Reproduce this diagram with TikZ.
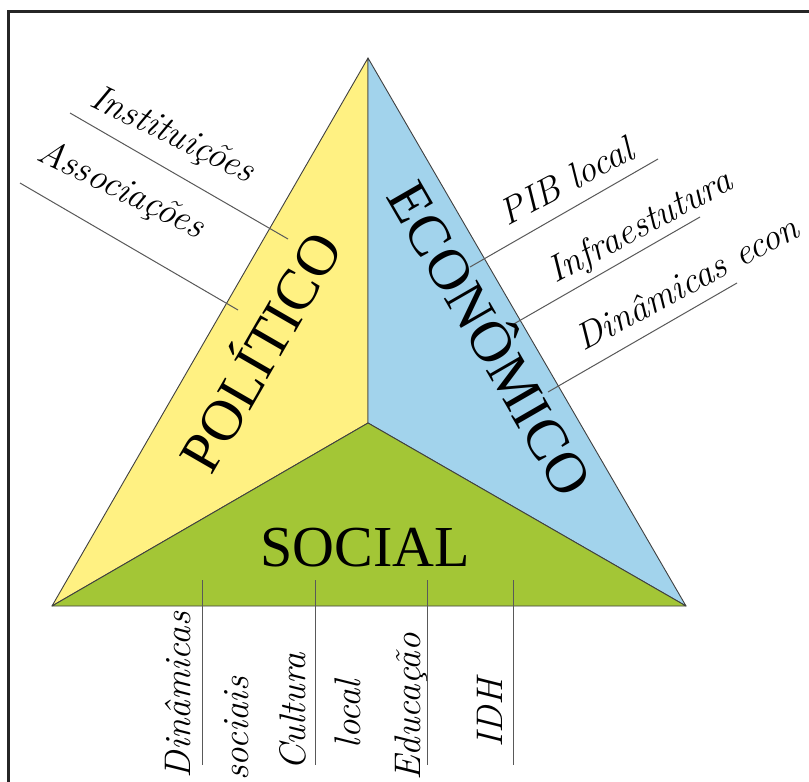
\documentclass[tikz,border=0pt]{standalone}
\usepackage{fontspec}
\newfontfamily\bigserif{Liberation Serif}
\definecolor{polyellow}{HTML}{FFF182}
\definecolor{ecoblue}{HTML}{A2D3EC}
\definecolor{socgreen}{HTML}{A3C636}
\begin{document}
\begin{tikzpicture}[x=1pt,y=-1pt,
  frameline/.style={line width=3.5pt, draw=black!85},
  face/.style={draw=black!75, line width=0.9pt, line join=round},
  leader/.style={draw=black!65, line width=1pt},
  hand/.style={font=\fontsize{37}{40}\selectfont\itshape, inner sep=0pt, anchor=base},
  big/.style={font=\bigserif\fontsize{58}{60}\selectfont, inner sep=0pt, anchor=base}]
\useasboundingbox (0,0) rectangle (809,782);
\clip (0,0) rectangle (809,782);
\fill[white] (0,0) rectangle (809,782);
% frame
\draw[frameline] (8.5,800) -- (8.5,11.5) -- (830,11.5);
% triangle
\coordinate (A) at (368,58);
\coordinate (L) at (52,606);
\coordinate (R) at (686,606);
\coordinate (C) at (368,423);
\filldraw[face, fill=polyellow] (A) -- (C) -- (L) -- cycle;
\filldraw[face, fill=ecoblue] (A) -- (R) -- (C) -- cycle;
\filldraw[face, fill=socgreen] (L) -- (C) -- (R) -- cycle;
% leader coordinates
\coordinate (i1) at (70,113);  \coordinate (i2) at (288,239);
\coordinate (a1) at (20,183);  \coordinate (a2) at (238,310);
\coordinate (p1) at (470,267); \coordinate (p2) at (658,159);
\coordinate (f1) at (512,325); \coordinate (f2) at (700,217);
\coordinate (d1) at (548,392); \coordinate (d2) at (737,283);
\coordinate (b1t) at (202,580); \coordinate (b1b) at (202,765);
\coordinate (b2t) at (315,580); \coordinate (b2b) at (315,765);
\coordinate (b3t) at (427,580); \coordinate (b3b) at (427,765);
\coordinate (b4t) at (513,580); \coordinate (b4b) at (513,765);
\draw[leader] (i1) -- (i2);
\draw[leader] (a1) -- (a2);
\draw[leader] (p1) -- (p2);
\draw[leader] (f1) -- (f2);
\draw[leader] (d1) -- (d2);
\draw[leader] (b1t) -- (b1b);
\draw[leader] (b2t) -- (b2b);
\draw[leader] (b3t) -- (b3b);
\draw[leader] (b4t) -- (b4b);
% big labels
\node[big, rotate=60] (pol) at (278,362) {POLÍTICO};
\node[big, rotate=-60] (eco) at (473,349) {ECONÔMICO};
\node[big] (soc) at (365,566) {SOCIAL};
% script labels
\node[hand, rotate=-26] (inst) at (168,144) {Instituições};
\node[hand, rotate=-26] (asso) at (117,199) {Associações};
\node[hand, rotate=28] (pib) at (572,192) {PIB local};
\node[hand, rotate=28] (infra) at (645,236) {Infraestutura};
\node[hand, rotate=28, anchor=base west] (dine) at (583,352) {Dinâmicas econ};
\node[hand, rotate=90] (dins) at (190,695) {Dinâmicas};
\node[hand, rotate=90] (socs) at (248,729) {sociais};
\node[hand, rotate=90] (cult) at (305,712) {Cultura};
\node[hand, rotate=90] (locl) at (360,714) {local};
\node[hand, rotate=90] (educ) at (420,707) {Educação};
\node[hand, rotate=90] (idh) at (502,713) {IDH};
\end{tikzpicture}
\end{document}
